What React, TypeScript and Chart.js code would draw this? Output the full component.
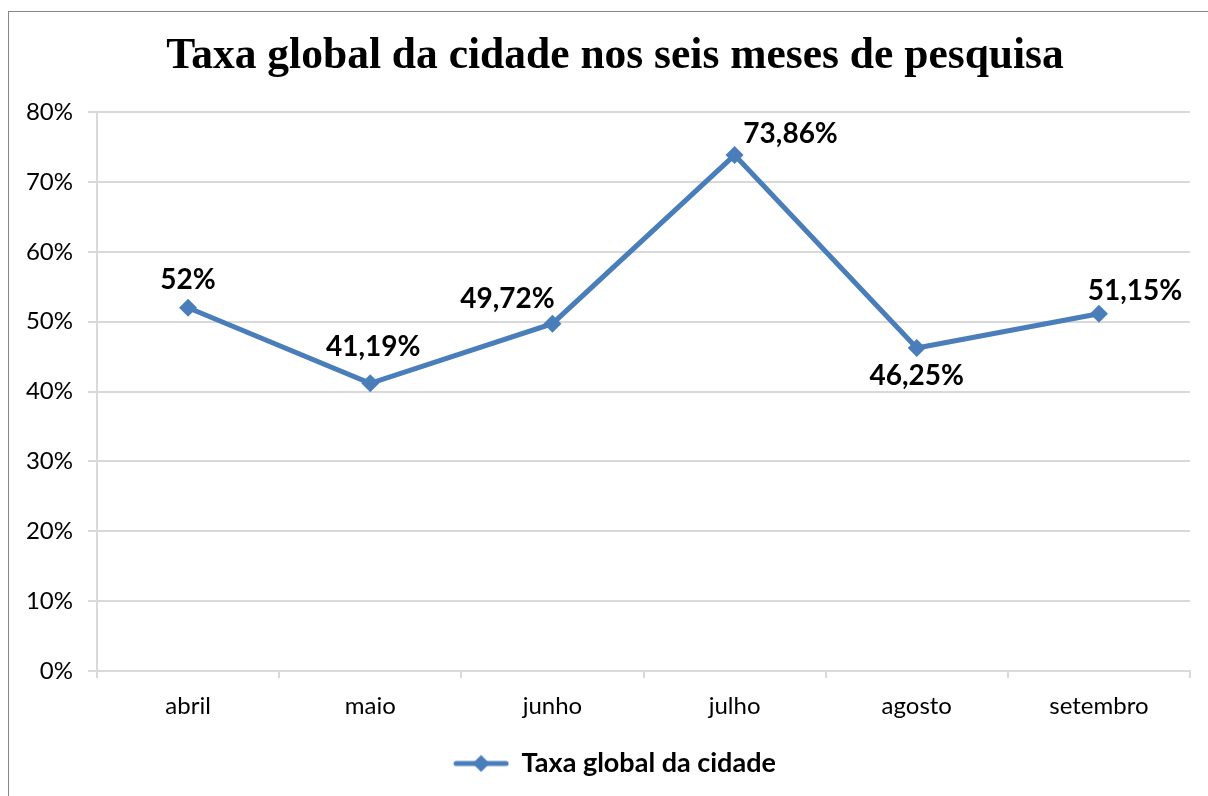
import React, { useEffect, useRef } from "react";
import { Chart, registerables } from "chart.js";

Chart.register(...registerables);

const TITLE = "Taxa global da cidade nos seis meses de pesquisa";
const SERIES_NAME = "Taxa global da cidade";
const MONTHS = ["abril", "maio", "junho", "julho", "agosto", "setembro"];
const RATES = [52, 41.19, 49.72, 73.86, 46.25, 51.15];
const RATE_LABELS = ["52%", "41,19%", "49,72%", "73,86%", "46,25%", "51,15%"];
const Y_TICKS = [0, 10, 20, 30, 40, 50, 60, 70, 80];

// label offsets relative to each point (px)
const LABEL_OFFSETS: [number, number][] = [
  [0, -28],
  [3, -36],
  [-45, -25],
  [56, -21],
  [0, 28],
  [36, -23],
];

const LINE_COLOR = "#4a7ebb";
const SANS = "Lato, 'Open Sans', sans-serif";
const SERIF = "'Liberation Serif', 'DejaVu Serif', serif";

function makeLegendIcon(): HTMLCanvasElement {
  const c = document.createElement("canvas");
  c.width = 56;
  c.height = 20;
  const ctx = c.getContext("2d")!;
  ctx.strokeStyle = LINE_COLOR;
  ctx.lineWidth = 5;
  ctx.lineCap = "round";
  ctx.beginPath();
  ctx.moveTo(3, 10);
  ctx.lineTo(53, 10);
  ctx.stroke();
  ctx.fillStyle = LINE_COLOR;
  ctx.beginPath();
  ctx.moveTo(28, 1.5);
  ctx.lineTo(36.5, 10);
  ctx.lineTo(28, 18.5);
  ctx.lineTo(19.5, 10);
  ctx.closePath();
  ctx.fill();
  return c;
}

const labelPlugin = {
  id: "pointLabels",
  afterDatasetsDraw(chart: any) {
    const meta = chart.getDatasetMeta(0);
    const ctx = chart.ctx;
    ctx.save();
    ctx.font = `bold 28px ${SANS}`;
    ctx.fillStyle = "#000";
    ctx.textAlign = "center";
    ctx.textBaseline = "middle";
    meta.data.forEach((pt: any, i: number) => {
      const [dx, dy] = LABEL_OFFSETS[i];
      ctx.fillText(RATE_LABELS[i], pt.x + dx, pt.y + dy);
    });
    ctx.restore();
  },
};

export default function App() {
  const ref = useRef<HTMLCanvasElement>(null);
  useEffect(() => {
    const icon = makeLegendIcon();
    const chart = new Chart(ref.current!, {
      type: "line",
      data: {
        labels: MONTHS,
        datasets: [
          {
            label: SERIES_NAME,
            data: RATES,
            borderColor: LINE_COLOR,
            backgroundColor: LINE_COLOR,
            borderWidth: 5,
            pointStyle: "rectRot",
            pointRadius: 9,
            pointBorderWidth: 0,
            tension: 0,
          },
        ],
      },
      options: {
        animation: false,
        responsive: false,
        layout: { padding: { left: 0, right: 0, top: 0, bottom: 25 } },
        plugins: {
          title: {
            display: true,
            text: TITLE,
            color: "#000",
            font: { family: SERIF, size: 43.5, weight: "bold", lineHeight: 1.2 },
            padding: { top: 19, bottom: 29 },
          },
          legend: {
            display: true,
            position: "bottom",
            labels: {
              usePointStyle: true,
              pointStyleWidth: 54,
              padding: 19,
              color: "#000",
              font: { family: SANS, size: 27, weight: "bold" },
              generateLabels: () => [
                {
                  text: SERIES_NAME,
                  pointStyle: icon as any,
                  fillStyle: LINE_COLOR,
                  strokeStyle: LINE_COLOR,
                  lineWidth: 0,
                  datasetIndex: 0,
                } as any,
              ],
            },
          },
          tooltip: { enabled: false },
        },
        scales: {
          x: {
            offset: true,
            grid: {
              display: true,
              drawOnChartArea: false,
              offset: true,
              color: "#d9d9d9",
              lineWidth: 2,
              tickLength: 7,
            },
            border: { color: "#d9d9d9", width: 2 },
            ticks: {
              color: "#000",
              padding: 14,
              font: { family: SANS, size: 24 },
            },
            afterFit: (s: any) => {
              s.height = 60;
            },
          },
          y: {
            min: 0,
            max: 80,
            afterBuildTicks: (s: any) => {
              s.ticks = Y_TICKS.map((v) => ({ value: v }));
            },
            grid: { color: "#d9d9d9", lineWidth: 2, tickLength: 9 },
            border: { color: "#d9d9d9", width: 2 },
            ticks: {
              color: "#000",
              padding: 15,
              font: { family: SANS, size: 24 },
              callback: (v: any) => `${v}%`,
            },
            afterFit: (s: any) => {
              s.width = 88;
            },
          },
          yRightSpacer: {
            position: "right",
            min: 0,
            max: 80,
            grid: { display: false, drawTicks: false },
            border: { display: false },
            ticks: { display: false },
            afterFit: (s: any) => {
              s.width = 31;
            },
          },
        },
      },
      plugins: [labelPlugin],
    });
    return () => chart.destroy();
  }, []);

  return (
    <div
      style={{
        position: "fixed",
        left: 0,
        top: 0,
        width: 1208,
        height: 796,
        overflow: "hidden",
        background: "#fff",
      }}
    >
      <div
        style={{
          position: "absolute",
          left: 8,
          top: 11,
          width: 1212,
          height: 800,
          border: "1.5px solid #868686",
          background: "#fff",
        }}
      >
        <canvas ref={ref} width={1212} height={800} style={{ display: "block" }} />
      </div>
    </div>
  );
}
